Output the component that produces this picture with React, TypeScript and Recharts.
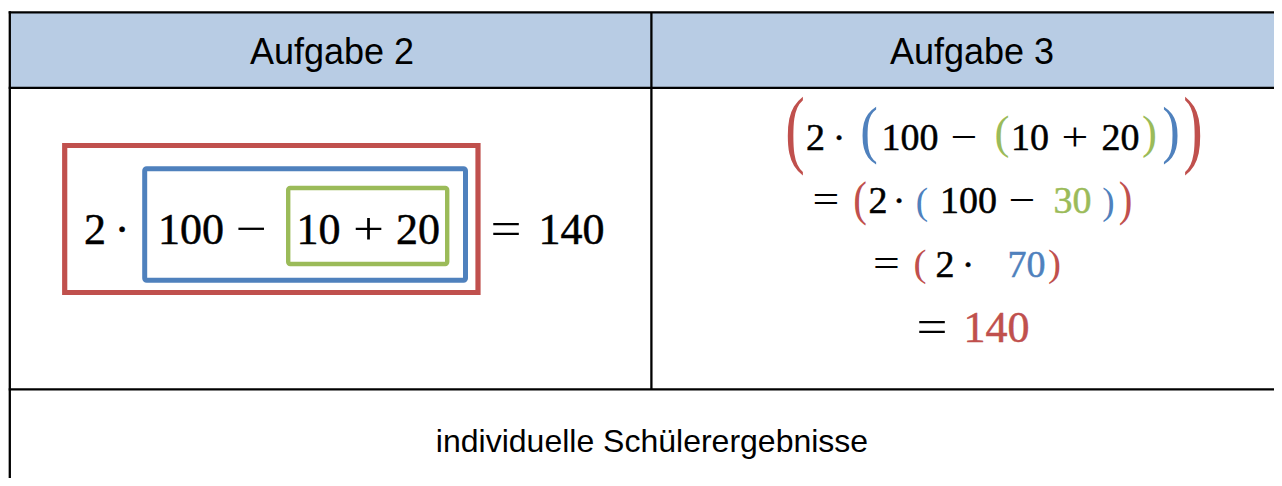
import React from "react";
import { Surface, Layer, Rectangle } from "recharts";

// ---- content ----
const headerLabels = ["Aufgabe 2", "Aufgabe 3"];
const footerLabel = "individuelle Schülerergebnisse";

const task2Tokens = ["2", "·", "100", "−", "10", "+", "20", "=", "140"];
const task3Line1 = ["(", "2", "·", "(", "100", "−", "(", "10", "+", "20", ")", ")", ")"];
const task3Line2 = ["=", "(", "2", "·", "(", "100", "−", "30", ")", ")"];
const task3Line3 = ["=", "(", "2", "·", "70", ")"];
const task3Line4 = ["=", "140"];

// ---- layout (positions / styles, kept apart from content) ----
const W = 1282;
const H = 486;
const RED = "#C0504D";
const BLUE = "#4F81BD";
const GREEN = "#9BBB59";
const BLACK = "#000000";
const HEAD = "#B8CCE4";
const SERIF = "'Liberation Serif', 'Times New Roman', serif";
const SANS = "'Liberation Sans', Arial, sans-serif";
const OPS = ["−", "+", "="];

const task2X = [95, 122, 191, 251, 318.5, 368.5, 418, 506, 571.5];

type Slot = { x: number; c: string; p?: [number, number, number, number] }; // paren: w, top, bottom, F
const line1Layout: Slot[] = [
  { x: 795, c: RED, p: [15, 97, 175, 62] },
  { x: 815.5, c: BLACK },
  { x: 839, c: BLACK },
  { x: 869, c: BLUE, p: [13.5, 107, 164, 54] },
  { x: 910, c: BLACK },
  { x: 964, c: BLACK },
  { x: 1002, c: GREEN, p: [11.5, 115, 157, 46] },
  { x: 1030, c: BLACK },
  { x: 1075, c: BLACK },
  { x: 1120.5, c: BLACK },
  { x: 1149.5, c: GREEN, p: [11.5, 115, 157, 46] },
  { x: 1171, c: BLUE, p: [13.5, 107, 164, 54] },
  { x: 1193, c: RED, p: [15, 97, 175, 62] },
];
const line2Layout: Slot[] = [
  { x: 826, c: BLACK },
  { x: 860, c: RED, p: [10.5, 182, 225, 44] },
  { x: 878, c: BLACK },
  { x: 899, c: BLACK },
  { x: 922, c: BLUE, p: [9.5, 188, 221, 38] },
  { x: 968.5, c: BLACK },
  { x: 1022, c: BLACK },
  { x: 1072.5, c: GREEN },
  { x: 1108.5, c: BLUE, p: [9.5, 188, 221, 38] },
  { x: 1125.5, c: RED, p: [10.5, 182, 225, 44] },
];
const line3Layout: Slot[] = [
  { x: 886.5, c: BLACK },
  { x: 920, c: RED, p: [10, 250, 283, 38] },
  { x: 945, c: BLACK },
  { x: 968, c: BLACK },
  { x: 1026.5, c: BLUE },
  { x: 1054.5, c: RED, p: [10, 250, 283, 38] },
];
const line4Layout: Slot[] = [
  { x: 932, c: BLACK },
  { x: 996.5, c: RED },
];

function Paren({ ch, cx, w, top, bottom, F, color }: { ch: string; cx: number; w: number; top: number; bottom: number; F: number; color: string }) {
  const sx = w / (0.256 * F);
  const sy = (bottom - top) / (0.89 * F);
  const ty = top + sy * 0.69 * F;
  return (
    <text
      transform={`translate(${cx},${ty}) scale(${sx},${sy})`}
      x={0}
      y={0}
      textAnchor="middle"
      fontFamily={SERIF}
      fontSize={F}
      fill={color}
    >
      {ch}
    </text>
  );
}

function MathLine({ tokens, layout, baseline, size }: { tokens: string[]; layout: Slot[]; baseline: number; size: number }) {
  return (
    <Layer>
      {tokens.map((t, i) => {
        const s = layout[i];
        if (s.p) {
          return <Paren key={i} ch={t} cx={s.x} w={s.p[0]} top={s.p[1]} bottom={s.p[2]} F={s.p[3]} color={s.c} />;
        }
        if (OPS.includes(t)) {
          return (
            <text
              key={i}
              transform={`translate(${s.x},${baseline}) scale(1.25,1.05)`}
              x={0}
              y={0}
              textAnchor="middle"
              fontFamily={SERIF}
              fontSize={size}
              fill={s.c}
            >
              {t}
            </text>
          );
        }
        return (
          <text
            key={i}
            x={s.x}
            y={baseline}
            textAnchor="middle"
            fontFamily={SERIF}
            fontSize={size}
            fill={s.c}
            stroke={s.c}
            strokeWidth={0.5}
          >
            {t}
          </text>
        );
      })}
    </Layer>
  );
}

export default function App() {
  const lw = 2.3;
  return (
    <div style={{ margin: -8, width: W, height: H, background: "#fff" }}>
      <Surface width={W} height={H} viewBox={{ x: 0, y: 0, width: W, height: H }}>
        <Rectangle x={0} y={0} width={W} height={H} fill="#ffffff" />
        {/* header background */}
        <Rectangle x={9.8} y={12.3} width={W - 9.8} height={75.2} fill={HEAD} />
        {/* table lines */}
        <line x1={9.8} y1={11.2} x2={9.8} y2={H} stroke={BLACK} strokeWidth={lw} />
        <line x1={8.7} y1={12.3} x2={W} y2={12.3} stroke={BLACK} strokeWidth={lw} />
        <line x1={8.7} y1={87.8} x2={W} y2={87.8} stroke={BLACK} strokeWidth={lw} />
        <line x1={651.4} y1={12.3} x2={651.4} y2={389.3} stroke={BLACK} strokeWidth={lw} />
        <line x1={8.7} y1={389.3} x2={W} y2={389.3} stroke={BLACK} strokeWidth={lw} />

        {/* headers */}
        <text x={332} y={64} textAnchor="middle" fontFamily={SANS} fontSize={36} fill={BLACK}>
          {headerLabels[0]}
        </text>
        <text x={972} y={64} textAnchor="middle" fontFamily={SANS} fontSize={36} fill={BLACK}>
          {headerLabels[1]}
        </text>

        {/* Aufgabe 2 boxes */}
        <Rectangle x={64.7} y={145.5} width={413.3} height={147} fill="none" stroke={RED} strokeWidth={5.2} />
        <Rectangle x={144.7} y={168.7} width={320.8} height={111.5} radius={2} fill="none" stroke={BLUE} strokeWidth={5} />
        <Rectangle x={288.2} y={188} width={159} height={76} radius={2} fill="none" stroke={GREEN} strokeWidth={4.4} />
        <MathLine tokens={task2Tokens} layout={task2X.map((x) => ({ x, c: BLACK }))} baseline={244} size={44} />

        {/* Aufgabe 3 */}
        <MathLine tokens={task3Line1} layout={line1Layout} baseline={150} size={38} />
        <MathLine tokens={task3Line2} layout={line2Layout} baseline={213} size={38} />
        <MathLine tokens={task3Line3} layout={line3Layout} baseline={277} size={38} />
        <MathLine tokens={task3Line4} layout={line4Layout} baseline={342} size={44} />

        {/* footer */}
        <text x={652} y={452} textAnchor="middle" fontFamily={SANS} fontSize={32} fill={BLACK}>
          {footerLabel}
        </text>
      </Surface>
    </div>
  );
}
